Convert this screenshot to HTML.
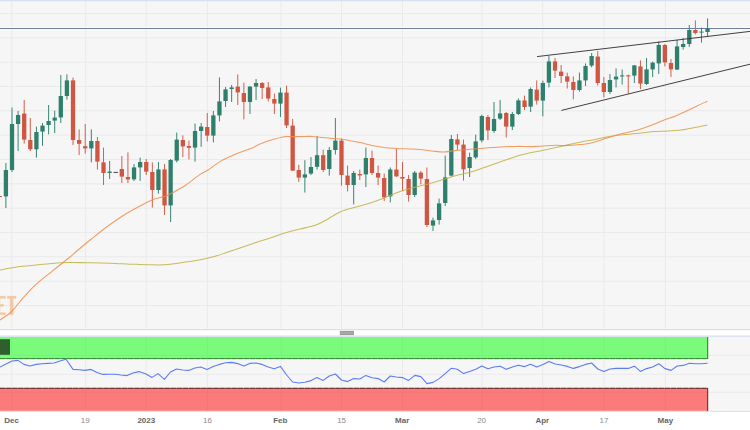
<!DOCTYPE html>
<html><head><meta charset="utf-8"><title>Chart</title>
<style>html,body{margin:0;padding:0;background:#fff;width:750px;height:430px;overflow:hidden;font-family:"Liberation Sans",sans-serif}svg{display:block}</style>
</head><body>
<svg width="750" height="430" viewBox="0 0 750 430">
<rect x="0" y="0" width="750" height="430" fill="#ffffff"/>
<rect x="0" y="0" width="750" height="329.5" fill="#f6f6f6"/>
<g stroke="#eaeaea" stroke-width="1" fill="none">
<line x1="0" y1="13.5" x2="750" y2="13.5"/>
<line x1="0" y1="37.8" x2="750" y2="37.8"/>
<line x1="0" y1="62.2" x2="750" y2="62.2"/>
<line x1="0" y1="86.5" x2="750" y2="86.5"/>
<line x1="0" y1="110.8" x2="750" y2="110.8"/>
<line x1="0" y1="135.1" x2="750" y2="135.1"/>
<line x1="0" y1="159.5" x2="750" y2="159.5"/>
<line x1="0" y1="183.8" x2="750" y2="183.8"/>
<line x1="0" y1="208.1" x2="750" y2="208.1"/>
<line x1="0" y1="232.5" x2="750" y2="232.5"/>
<line x1="0" y1="256.8" x2="750" y2="256.8"/>
<line x1="0" y1="281.1" x2="750" y2="281.1"/>
<line x1="0" y1="305.5" x2="750" y2="305.5"/>
<line x1="11.8" y1="0" x2="11.8" y2="329"/>
<line x1="85.6" y1="0" x2="85.6" y2="329"/>
<line x1="146.1" y1="0" x2="146.1" y2="329"/>
<line x1="207.4" y1="0" x2="207.4" y2="329"/>
<line x1="281.0" y1="0" x2="281.0" y2="329"/>
<line x1="341.5" y1="0" x2="341.5" y2="329"/>
<line x1="402.5" y1="0" x2="402.5" y2="329"/>
<line x1="482.0" y1="0" x2="482.0" y2="329"/>
<line x1="542.7" y1="0" x2="542.7" y2="329"/>
<line x1="604.0" y1="0" x2="604.0" y2="329"/>
<line x1="665.4" y1="0" x2="665.4" y2="329"/>
</g>
<line x1="0" y1="0.5" x2="750" y2="0.5" stroke="#d9def0" stroke-width="1.4"/>
<line x1="0" y1="329.6" x2="750" y2="329.6" stroke="#d9def0" stroke-width="1.2"/>
<g fill="#f0a05a" fill-opacity="0.5">
<rect x="7.1" y="295.9" width="9.1" height="2.8"/>
<rect x="9.9" y="298.7" width="3.5" height="16.2"/>
<rect x="-4" y="295.9" width="9.7" height="2.8"/>
<rect x="-4" y="304.2" width="7.6" height="2.5"/>
<rect x="-4" y="312.4" width="9.7" height="2.5"/>
<rect x="-4" y="298.7" width="4.2" height="5.5"/>
<rect x="-4" y="306.7" width="4.2" height="5.7"/>
</g>
<line x1="0" y1="28.5" x2="750" y2="28.5" stroke="#ffffff" stroke-width="2.6" stroke-opacity="0.8"/>
<line x1="0" y1="28.5" x2="750" y2="28.5" stroke="#6a7e9e" stroke-width="1.1"/>
<line x1="-0.20" y1="196.0" x2="-0.20" y2="197.0" stroke="#d05642" stroke-width="1" stroke-opacity="0.95"/>
<rect x="-2.35" y="196.0" width="4.3" height="1.0" fill="#d05642"/>
<line x1="5.90" y1="163.0" x2="5.90" y2="208.0" stroke="#2e806c" stroke-width="1" stroke-opacity="0.95"/>
<rect x="3.75" y="170.0" width="4.3" height="26.4" fill="#2e806c"/>
<line x1="12.00" y1="107.6" x2="12.00" y2="172.0" stroke="#2e806c" stroke-width="1" stroke-opacity="0.95"/>
<rect x="9.85" y="124.0" width="4.3" height="46.0" fill="#2e806c"/>
<line x1="18.10" y1="111.0" x2="18.10" y2="151.0" stroke="#2e806c" stroke-width="1" stroke-opacity="0.95"/>
<rect x="15.95" y="115.0" width="4.3" height="9.0" fill="#2e806c"/>
<line x1="24.20" y1="100.0" x2="24.20" y2="143.6" stroke="#d05642" stroke-width="1" stroke-opacity="0.95"/>
<rect x="22.05" y="113.6" width="4.3" height="26.0" fill="#d05642"/>
<line x1="30.30" y1="118.0" x2="30.30" y2="151.0" stroke="#d05642" stroke-width="1" stroke-opacity="0.95"/>
<rect x="28.15" y="140.0" width="4.3" height="9.3" fill="#d05642"/>
<line x1="36.41" y1="126.6" x2="36.41" y2="157.6" stroke="#2e806c" stroke-width="1" stroke-opacity="0.95"/>
<rect x="34.26" y="132.0" width="4.3" height="17.3" fill="#2e806c"/>
<line x1="42.51" y1="123.0" x2="42.51" y2="145.8" stroke="#2e806c" stroke-width="1" stroke-opacity="0.95"/>
<rect x="40.36" y="125.6" width="4.3" height="6.0" fill="#2e806c"/>
<line x1="48.61" y1="105.0" x2="48.61" y2="134.4" stroke="#2e806c" stroke-width="1" stroke-opacity="0.95"/>
<rect x="46.46" y="121.0" width="4.3" height="4.0" fill="#2e806c"/>
<line x1="54.71" y1="110.6" x2="54.71" y2="133.0" stroke="#2e806c" stroke-width="1" stroke-opacity="0.95"/>
<rect x="52.56" y="117.6" width="4.3" height="3.0" fill="#2e806c"/>
<line x1="60.81" y1="75.0" x2="60.81" y2="123.0" stroke="#2e806c" stroke-width="1" stroke-opacity="0.95"/>
<rect x="58.66" y="96.0" width="4.3" height="21.4" fill="#2e806c"/>
<line x1="66.91" y1="74.4" x2="66.91" y2="99.6" stroke="#2e806c" stroke-width="1" stroke-opacity="0.95"/>
<rect x="64.76" y="80.4" width="4.3" height="15.6" fill="#2e806c"/>
<line x1="73.02" y1="77.6" x2="73.02" y2="145.0" stroke="#d05642" stroke-width="1" stroke-opacity="0.95"/>
<rect x="70.86" y="80.4" width="4.3" height="59.6" fill="#d05642"/>
<line x1="79.12" y1="129.4" x2="79.12" y2="155.0" stroke="#d05642" stroke-width="1" stroke-opacity="0.95"/>
<rect x="76.97" y="140.0" width="4.3" height="3.8" fill="#d05642"/>
<line x1="85.22" y1="124.0" x2="85.22" y2="153.6" stroke="#d05642" stroke-width="1" stroke-opacity="0.95"/>
<rect x="83.07" y="146.2" width="4.3" height="2.2" fill="#d05642"/>
<line x1="91.32" y1="129.4" x2="91.32" y2="162.4" stroke="#2e806c" stroke-width="1" stroke-opacity="0.95"/>
<rect x="89.17" y="141.0" width="4.3" height="7.4" fill="#2e806c"/>
<line x1="97.42" y1="137.0" x2="97.42" y2="169.6" stroke="#d05642" stroke-width="1" stroke-opacity="0.95"/>
<rect x="95.27" y="141.0" width="4.3" height="20.6" fill="#d05642"/>
<line x1="103.52" y1="147.6" x2="103.52" y2="185.0" stroke="#d05642" stroke-width="1" stroke-opacity="0.95"/>
<rect x="101.37" y="162.4" width="4.3" height="10.6" fill="#d05642"/>
<line x1="109.62" y1="161.0" x2="109.62" y2="179.0" stroke="#2e806c" stroke-width="1" stroke-opacity="0.95"/>
<rect x="107.47" y="171.6" width="4.3" height="1.4" fill="#2e806c"/>
<line x1="113.5" y1="172.4" x2="117.9" y2="172.4" stroke="#333" stroke-width="0.9"/>
<line x1="121.83" y1="156.0" x2="121.83" y2="183.0" stroke="#d05642" stroke-width="1" stroke-opacity="0.95"/>
<rect x="119.68" y="169.0" width="4.3" height="7.6" fill="#d05642"/>
<line x1="127.93" y1="152.4" x2="127.93" y2="183.0" stroke="#d05642" stroke-width="1" stroke-opacity="0.95"/>
<rect x="125.78" y="177.0" width="4.3" height="2.4" fill="#d05642"/>
<line x1="134.03" y1="164.0" x2="134.03" y2="181.0" stroke="#2e806c" stroke-width="1" stroke-opacity="0.95"/>
<rect x="131.88" y="167.4" width="4.3" height="12.0" fill="#2e806c"/>
<line x1="140.13" y1="157.6" x2="140.13" y2="181.0" stroke="#2e806c" stroke-width="1" stroke-opacity="0.95"/>
<rect x="137.98" y="162.0" width="4.3" height="5.4" fill="#2e806c"/>
<line x1="146.23" y1="159.0" x2="146.23" y2="175.0" stroke="#d05642" stroke-width="1" stroke-opacity="0.95"/>
<rect x="144.08" y="162.0" width="4.3" height="9.6" fill="#d05642"/>
<line x1="152.33" y1="162.4" x2="152.33" y2="207.6" stroke="#d05642" stroke-width="1" stroke-opacity="0.95"/>
<rect x="150.18" y="172.0" width="4.3" height="18.0" fill="#d05642"/>
<line x1="158.44" y1="162.0" x2="158.44" y2="193.6" stroke="#2e806c" stroke-width="1" stroke-opacity="0.95"/>
<rect x="156.29" y="169.4" width="4.3" height="20.6" fill="#2e806c"/>
<line x1="164.54" y1="164.0" x2="164.54" y2="215.0" stroke="#d05642" stroke-width="1" stroke-opacity="0.95"/>
<rect x="162.39" y="169.4" width="4.3" height="36.0" fill="#d05642"/>
<line x1="170.64" y1="159.0" x2="170.64" y2="222.0" stroke="#2e806c" stroke-width="1" stroke-opacity="0.95"/>
<rect x="168.49" y="160.0" width="4.3" height="45.4" fill="#2e806c"/>
<line x1="176.74" y1="132.6" x2="176.74" y2="162.4" stroke="#2e806c" stroke-width="1" stroke-opacity="0.95"/>
<rect x="174.59" y="139.6" width="4.3" height="21.0" fill="#2e806c"/>
<line x1="182.84" y1="135.4" x2="182.84" y2="157.0" stroke="#d05642" stroke-width="1" stroke-opacity="0.95"/>
<rect x="180.69" y="140.0" width="4.3" height="6.4" fill="#d05642"/>
<line x1="188.94" y1="140.6" x2="188.94" y2="159.4" stroke="#d05642" stroke-width="1" stroke-opacity="0.95"/>
<rect x="186.79" y="146.0" width="4.3" height="1.8" fill="#d05642"/>
<line x1="195.04" y1="123.6" x2="195.04" y2="161.6" stroke="#2e806c" stroke-width="1" stroke-opacity="0.95"/>
<rect x="192.89" y="131.0" width="4.3" height="16.6" fill="#2e806c"/>
<line x1="201.15" y1="123.0" x2="201.15" y2="146.8" stroke="#2e806c" stroke-width="1" stroke-opacity="0.95"/>
<rect x="199.00" y="126.6" width="4.3" height="4.4" fill="#2e806c"/>
<line x1="207.25" y1="113.0" x2="207.25" y2="141.4" stroke="#d05642" stroke-width="1" stroke-opacity="0.95"/>
<rect x="205.10" y="127.0" width="4.3" height="8.6" fill="#d05642"/>
<line x1="213.35" y1="111.0" x2="213.35" y2="142.4" stroke="#2e806c" stroke-width="1" stroke-opacity="0.95"/>
<rect x="211.20" y="115.4" width="4.3" height="20.2" fill="#2e806c"/>
<line x1="219.45" y1="77.4" x2="219.45" y2="121.4" stroke="#2e806c" stroke-width="1" stroke-opacity="0.95"/>
<rect x="217.30" y="101.4" width="4.3" height="14.0" fill="#2e806c"/>
<line x1="225.55" y1="87.0" x2="225.55" y2="107.0" stroke="#2e806c" stroke-width="1" stroke-opacity="0.95"/>
<rect x="223.40" y="89.4" width="4.3" height="11.6" fill="#2e806c"/>
<line x1="231.65" y1="85.0" x2="231.65" y2="102.0" stroke="#2e806c" stroke-width="1" stroke-opacity="0.95"/>
<rect x="229.50" y="87.4" width="4.3" height="1.6" fill="#2e806c"/>
<line x1="237.76" y1="74.4" x2="237.76" y2="105.0" stroke="#d05642" stroke-width="1" stroke-opacity="0.95"/>
<rect x="235.61" y="86.6" width="4.3" height="5.8" fill="#d05642"/>
<line x1="243.86" y1="82.6" x2="243.86" y2="119.4" stroke="#d05642" stroke-width="1" stroke-opacity="0.95"/>
<rect x="241.71" y="93.0" width="4.3" height="9.0" fill="#d05642"/>
<line x1="249.96" y1="86.0" x2="249.96" y2="114.0" stroke="#2e806c" stroke-width="1" stroke-opacity="0.95"/>
<rect x="247.81" y="86.6" width="4.3" height="15.4" fill="#2e806c"/>
<line x1="256.06" y1="79.0" x2="256.06" y2="100.0" stroke="#2e806c" stroke-width="1" stroke-opacity="0.95"/>
<rect x="253.91" y="83.0" width="4.3" height="3.6" fill="#2e806c"/>
<line x1="262.16" y1="82.0" x2="262.16" y2="99.0" stroke="#d05642" stroke-width="1" stroke-opacity="0.95"/>
<rect x="260.01" y="83.0" width="4.3" height="5.0" fill="#d05642"/>
<line x1="268.26" y1="82.0" x2="268.26" y2="101.4" stroke="#d05642" stroke-width="1" stroke-opacity="0.95"/>
<rect x="266.11" y="87.4" width="4.3" height="11.2" fill="#d05642"/>
<line x1="274.36" y1="93.6" x2="274.36" y2="114.0" stroke="#d05642" stroke-width="1" stroke-opacity="0.95"/>
<rect x="272.21" y="99.0" width="4.3" height="4.6" fill="#d05642"/>
<line x1="280.47" y1="87.6" x2="280.47" y2="117.0" stroke="#2e806c" stroke-width="1" stroke-opacity="0.95"/>
<rect x="278.32" y="92.6" width="4.3" height="11.0" fill="#2e806c"/>
<line x1="286.57" y1="85.6" x2="286.57" y2="128.0" stroke="#d05642" stroke-width="1" stroke-opacity="0.95"/>
<rect x="284.42" y="92.6" width="4.3" height="32.8" fill="#d05642"/>
<line x1="292.67" y1="119.0" x2="292.67" y2="171.0" stroke="#d05642" stroke-width="1" stroke-opacity="0.95"/>
<rect x="290.52" y="125.6" width="4.3" height="45.0" fill="#d05642"/>
<line x1="298.77" y1="164.8" x2="298.77" y2="182.0" stroke="#d05642" stroke-width="1" stroke-opacity="0.95"/>
<rect x="296.62" y="170.0" width="4.3" height="7.6" fill="#d05642"/>
<line x1="304.87" y1="160.2" x2="304.87" y2="192.6" stroke="#2e806c" stroke-width="1" stroke-opacity="0.95"/>
<rect x="302.72" y="174.4" width="4.3" height="3.2" fill="#2e806c"/>
<line x1="310.97" y1="157.0" x2="310.97" y2="175.0" stroke="#2e806c" stroke-width="1" stroke-opacity="0.95"/>
<rect x="308.82" y="167.0" width="4.3" height="6.6" fill="#2e806c"/>
<line x1="317.07" y1="136.0" x2="317.07" y2="169.6" stroke="#2e806c" stroke-width="1" stroke-opacity="0.95"/>
<rect x="314.93" y="155.2" width="4.3" height="11.6" fill="#2e806c"/>
<line x1="323.18" y1="149.6" x2="323.18" y2="172.0" stroke="#d05642" stroke-width="1" stroke-opacity="0.95"/>
<rect x="321.03" y="155.2" width="4.3" height="14.8" fill="#d05642"/>
<line x1="329.28" y1="147.0" x2="329.28" y2="175.6" stroke="#2e806c" stroke-width="1" stroke-opacity="0.95"/>
<rect x="327.13" y="150.0" width="4.3" height="19.0" fill="#2e806c"/>
<line x1="335.38" y1="118.0" x2="335.38" y2="154.5" stroke="#2e806c" stroke-width="1" stroke-opacity="0.95"/>
<rect x="333.23" y="140.6" width="4.3" height="9.4" fill="#2e806c"/>
<line x1="341.48" y1="138.6" x2="341.48" y2="185.6" stroke="#d05642" stroke-width="1" stroke-opacity="0.95"/>
<rect x="339.33" y="140.6" width="4.3" height="34.4" fill="#d05642"/>
<line x1="347.58" y1="165.6" x2="347.58" y2="191.4" stroke="#d05642" stroke-width="1" stroke-opacity="0.95"/>
<rect x="345.43" y="175.6" width="4.3" height="9.4" fill="#d05642"/>
<line x1="353.68" y1="171.0" x2="353.68" y2="204.4" stroke="#2e806c" stroke-width="1" stroke-opacity="0.95"/>
<rect x="351.53" y="173.0" width="4.3" height="12.0" fill="#2e806c"/>
<line x1="359.79" y1="169.6" x2="359.79" y2="180.0" stroke="#d05642" stroke-width="1" stroke-opacity="0.95"/>
<rect x="357.64" y="174.0" width="4.3" height="1.4" fill="#d05642"/>
<line x1="365.89" y1="147.6" x2="365.89" y2="187.0" stroke="#2e806c" stroke-width="1" stroke-opacity="0.95"/>
<rect x="363.74" y="158.0" width="4.3" height="16.4" fill="#2e806c"/>
<line x1="371.99" y1="150.6" x2="371.99" y2="175.0" stroke="#d05642" stroke-width="1" stroke-opacity="0.95"/>
<rect x="369.84" y="158.0" width="4.3" height="15.0" fill="#d05642"/>
<line x1="378.09" y1="165.6" x2="378.09" y2="185.0" stroke="#d05642" stroke-width="1" stroke-opacity="0.95"/>
<rect x="375.94" y="173.0" width="4.3" height="4.6" fill="#d05642"/>
<line x1="384.19" y1="173.6" x2="384.19" y2="201.0" stroke="#d05642" stroke-width="1" stroke-opacity="0.95"/>
<rect x="382.04" y="178.0" width="4.3" height="19.4" fill="#d05642"/>
<line x1="390.29" y1="167.5" x2="390.29" y2="202.4" stroke="#2e806c" stroke-width="1" stroke-opacity="0.95"/>
<rect x="388.14" y="169.5" width="4.3" height="26.9" fill="#2e806c"/>
<line x1="396.39" y1="149.0" x2="396.39" y2="177.0" stroke="#d05642" stroke-width="1" stroke-opacity="0.95"/>
<rect x="394.24" y="169.6" width="4.3" height="6.8" fill="#d05642"/>
<line x1="402.50" y1="162.0" x2="402.50" y2="191.0" stroke="#d05642" stroke-width="1" stroke-opacity="0.95"/>
<rect x="400.35" y="177.0" width="4.3" height="1.6" fill="#d05642"/>
<line x1="408.60" y1="175.0" x2="408.60" y2="201.6" stroke="#d05642" stroke-width="1" stroke-opacity="0.95"/>
<rect x="406.45" y="179.0" width="4.3" height="16.0" fill="#d05642"/>
<line x1="414.70" y1="171.0" x2="414.70" y2="197.0" stroke="#2e806c" stroke-width="1" stroke-opacity="0.95"/>
<rect x="412.55" y="172.6" width="4.3" height="22.4" fill="#2e806c"/>
<line x1="420.80" y1="171.0" x2="420.80" y2="184.4" stroke="#d05642" stroke-width="1" stroke-opacity="0.95"/>
<rect x="418.65" y="172.6" width="4.3" height="6.0" fill="#d05642"/>
<line x1="426.90" y1="167.5" x2="426.90" y2="227.0" stroke="#d05642" stroke-width="1" stroke-opacity="0.95"/>
<rect x="424.75" y="179.0" width="4.3" height="46.0" fill="#d05642"/>
<line x1="433.00" y1="217.6" x2="433.00" y2="231.0" stroke="#2e806c" stroke-width="1" stroke-opacity="0.95"/>
<rect x="430.85" y="220.4" width="4.3" height="5.2" fill="#2e806c"/>
<line x1="439.10" y1="198.6" x2="439.10" y2="224.6" stroke="#2e806c" stroke-width="1" stroke-opacity="0.95"/>
<rect x="436.95" y="203.4" width="4.3" height="16.6" fill="#2e806c"/>
<line x1="445.21" y1="155.6" x2="445.21" y2="206.0" stroke="#2e806c" stroke-width="1" stroke-opacity="0.95"/>
<rect x="443.06" y="177.4" width="4.3" height="25.6" fill="#2e806c"/>
<line x1="451.31" y1="135.0" x2="451.31" y2="176.5" stroke="#2e806c" stroke-width="1" stroke-opacity="0.95"/>
<rect x="449.16" y="139.0" width="4.3" height="36.6" fill="#2e806c"/>
<line x1="457.41" y1="134.0" x2="457.41" y2="150.0" stroke="#d05642" stroke-width="1" stroke-opacity="0.95"/>
<rect x="455.26" y="139.4" width="4.3" height="5.2" fill="#d05642"/>
<line x1="463.51" y1="139.6" x2="463.51" y2="180.6" stroke="#d05642" stroke-width="1" stroke-opacity="0.95"/>
<rect x="461.36" y="144.6" width="4.3" height="24.8" fill="#d05642"/>
<line x1="469.61" y1="152.6" x2="469.61" y2="177.0" stroke="#2e806c" stroke-width="1" stroke-opacity="0.95"/>
<rect x="467.46" y="157.0" width="4.3" height="11.0" fill="#2e806c"/>
<line x1="475.71" y1="134.6" x2="475.71" y2="159.0" stroke="#2e806c" stroke-width="1" stroke-opacity="0.95"/>
<rect x="473.56" y="141.4" width="4.3" height="16.0" fill="#2e806c"/>
<line x1="481.82" y1="114.6" x2="481.82" y2="142.4" stroke="#2e806c" stroke-width="1" stroke-opacity="0.95"/>
<rect x="479.67" y="116.0" width="4.3" height="24.4" fill="#2e806c"/>
<line x1="487.92" y1="115.0" x2="487.92" y2="140.0" stroke="#d05642" stroke-width="1" stroke-opacity="0.95"/>
<rect x="485.77" y="117.0" width="4.3" height="13.4" fill="#d05642"/>
<line x1="494.02" y1="102.0" x2="494.02" y2="133.0" stroke="#2e806c" stroke-width="1" stroke-opacity="0.95"/>
<rect x="491.87" y="119.0" width="4.3" height="12.0" fill="#2e806c"/>
<line x1="500.12" y1="100.0" x2="500.12" y2="120.0" stroke="#2e806c" stroke-width="1" stroke-opacity="0.95"/>
<rect x="497.97" y="113.4" width="4.3" height="5.2" fill="#2e806c"/>
<line x1="506.22" y1="112.0" x2="506.22" y2="137.4" stroke="#d05642" stroke-width="1" stroke-opacity="0.95"/>
<rect x="504.07" y="113.0" width="4.3" height="13.6" fill="#d05642"/>
<line x1="512.32" y1="112.0" x2="512.32" y2="130.0" stroke="#2e806c" stroke-width="1" stroke-opacity="0.95"/>
<rect x="510.17" y="114.0" width="4.3" height="12.6" fill="#2e806c"/>
<line x1="518.42" y1="98.4" x2="518.42" y2="115.0" stroke="#2e806c" stroke-width="1" stroke-opacity="0.95"/>
<rect x="516.27" y="100.4" width="4.3" height="13.6" fill="#2e806c"/>
<line x1="524.53" y1="95.6" x2="524.53" y2="110.0" stroke="#d05642" stroke-width="1" stroke-opacity="0.95"/>
<rect x="522.38" y="100.4" width="4.3" height="6.6" fill="#d05642"/>
<line x1="530.63" y1="87.4" x2="530.63" y2="112.0" stroke="#2e806c" stroke-width="1" stroke-opacity="0.95"/>
<rect x="528.48" y="89.0" width="4.3" height="17.6" fill="#2e806c"/>
<line x1="536.73" y1="80.4" x2="536.73" y2="104.6" stroke="#d05642" stroke-width="1" stroke-opacity="0.95"/>
<rect x="534.58" y="89.6" width="4.3" height="11.0" fill="#d05642"/>
<line x1="542.83" y1="80.6" x2="542.83" y2="116.4" stroke="#2e806c" stroke-width="1" stroke-opacity="0.95"/>
<rect x="540.68" y="83.0" width="4.3" height="17.6" fill="#2e806c"/>
<line x1="548.93" y1="56.0" x2="548.93" y2="87.4" stroke="#2e806c" stroke-width="1" stroke-opacity="0.95"/>
<rect x="546.78" y="61.4" width="4.3" height="21.2" fill="#2e806c"/>
<line x1="555.03" y1="58.0" x2="555.03" y2="78.0" stroke="#d05642" stroke-width="1" stroke-opacity="0.95"/>
<rect x="552.88" y="61.4" width="4.3" height="9.2" fill="#d05642"/>
<line x1="561.13" y1="65.0" x2="561.13" y2="83.0" stroke="#d05642" stroke-width="1" stroke-opacity="0.95"/>
<rect x="558.99" y="71.6" width="4.3" height="4.4" fill="#d05642"/>
<line x1="567.24" y1="72.6" x2="567.24" y2="88.6" stroke="#d05642" stroke-width="1" stroke-opacity="0.95"/>
<rect x="565.09" y="76.4" width="4.3" height="5.2" fill="#d05642"/>
<line x1="573.34" y1="76.4" x2="573.34" y2="99.4" stroke="#d05642" stroke-width="1" stroke-opacity="0.95"/>
<rect x="571.19" y="82.0" width="4.3" height="8.0" fill="#d05642"/>
<line x1="579.44" y1="72.6" x2="579.44" y2="91.6" stroke="#2e806c" stroke-width="1" stroke-opacity="0.95"/>
<rect x="577.29" y="80.4" width="4.3" height="9.6" fill="#2e806c"/>
<line x1="585.54" y1="63.4" x2="585.54" y2="86.0" stroke="#2e806c" stroke-width="1" stroke-opacity="0.95"/>
<rect x="583.39" y="66.0" width="4.3" height="14.4" fill="#2e806c"/>
<line x1="591.64" y1="53.0" x2="591.64" y2="67.4" stroke="#2e806c" stroke-width="1" stroke-opacity="0.95"/>
<rect x="589.49" y="56.0" width="4.3" height="9.6" fill="#2e806c"/>
<line x1="597.74" y1="51.0" x2="597.74" y2="85.6" stroke="#d05642" stroke-width="1" stroke-opacity="0.95"/>
<rect x="595.59" y="56.6" width="4.3" height="26.4" fill="#d05642"/>
<line x1="603.85" y1="77.0" x2="603.85" y2="97.4" stroke="#d05642" stroke-width="1" stroke-opacity="0.95"/>
<rect x="601.70" y="83.0" width="4.3" height="9.0" fill="#d05642"/>
<line x1="609.95" y1="74.0" x2="609.95" y2="94.0" stroke="#2e806c" stroke-width="1" stroke-opacity="0.95"/>
<rect x="607.80" y="80.0" width="4.3" height="12.0" fill="#2e806c"/>
<line x1="616.05" y1="68.4" x2="616.05" y2="87.4" stroke="#2e806c" stroke-width="1" stroke-opacity="0.95"/>
<rect x="613.90" y="76.6" width="4.3" height="2.8" fill="#2e806c"/>
<line x1="622.15" y1="69.6" x2="622.15" y2="84.6" stroke="#2e806c" stroke-width="1" stroke-opacity="0.95"/>
<rect x="620.00" y="75.4" width="4.3" height="1.0" fill="#2e806c"/>
<line x1="628.25" y1="74.6" x2="628.25" y2="93.6" stroke="#d05642" stroke-width="1" stroke-opacity="0.95"/>
<rect x="626.10" y="75.4" width="4.3" height="1.0" fill="#d05642"/>
<line x1="634.35" y1="65.0" x2="634.35" y2="83.0" stroke="#2e806c" stroke-width="1" stroke-opacity="0.95"/>
<rect x="632.20" y="65.4" width="4.3" height="10.2" fill="#2e806c"/>
<line x1="640.45" y1="60.4" x2="640.45" y2="89.0" stroke="#d05642" stroke-width="1" stroke-opacity="0.95"/>
<rect x="638.30" y="66.4" width="4.3" height="17.2" fill="#d05642"/>
<line x1="646.56" y1="58.0" x2="646.56" y2="85.0" stroke="#2e806c" stroke-width="1" stroke-opacity="0.95"/>
<rect x="644.41" y="69.4" width="4.3" height="14.6" fill="#2e806c"/>
<line x1="652.66" y1="61.6" x2="652.66" y2="77.0" stroke="#2e806c" stroke-width="1" stroke-opacity="0.95"/>
<rect x="650.51" y="62.6" width="4.3" height="6.8" fill="#2e806c"/>
<line x1="658.76" y1="41.4" x2="658.76" y2="74.0" stroke="#2e806c" stroke-width="1" stroke-opacity="0.95"/>
<rect x="656.61" y="45.0" width="4.3" height="18.4" fill="#2e806c"/>
<line x1="664.86" y1="44.0" x2="664.86" y2="66.4" stroke="#d05642" stroke-width="1" stroke-opacity="0.95"/>
<rect x="662.71" y="45.0" width="4.3" height="17.4" fill="#d05642"/>
<line x1="670.96" y1="59.0" x2="670.96" y2="77.0" stroke="#d05642" stroke-width="1" stroke-opacity="0.95"/>
<rect x="668.81" y="63.0" width="4.3" height="6.4" fill="#d05642"/>
<line x1="677.06" y1="40.0" x2="677.06" y2="70.0" stroke="#2e806c" stroke-width="1" stroke-opacity="0.95"/>
<rect x="674.91" y="46.4" width="4.3" height="23.2" fill="#2e806c"/>
<line x1="683.16" y1="38.0" x2="683.16" y2="49.6" stroke="#2e806c" stroke-width="1" stroke-opacity="0.95"/>
<rect x="681.01" y="44.0" width="4.3" height="3.0" fill="#2e806c"/>
<line x1="689.27" y1="25.0" x2="689.27" y2="47.0" stroke="#2e806c" stroke-width="1" stroke-opacity="0.95"/>
<rect x="687.12" y="30.0" width="4.3" height="14.0" fill="#2e806c"/>
<line x1="695.37" y1="20.4" x2="695.37" y2="34.4" stroke="#d05642" stroke-width="1" stroke-opacity="0.95"/>
<rect x="693.22" y="30.0" width="4.3" height="3.0" fill="#d05642"/>
<line x1="701.47" y1="27.6" x2="701.47" y2="42.6" stroke="#2e806c" stroke-width="1" stroke-opacity="0.95"/>
<rect x="699.32" y="31.6" width="4.3" height="1.0" fill="#2e806c"/>
<line x1="707.57" y1="18.4" x2="707.57" y2="36.4" stroke="#2e806c" stroke-width="1" stroke-opacity="0.95"/>
<rect x="705.42" y="28.6" width="4.3" height="3.4" fill="#2e806c"/>
<path d="M0.0,270.0C3.3,269.4 13.3,267.5 20.0,266.6C26.7,265.7 33.3,265.2 40.0,264.6C46.7,264.0 55.0,263.2 60.0,262.8C65.0,262.4 65.0,262.4 70.0,262.4C75.0,262.4 83.3,262.7 90.0,262.8C96.7,262.9 103.3,263.0 110.0,263.2C116.7,263.4 125.0,264.0 130.0,264.2C135.0,264.4 136.3,264.3 140.0,264.4C143.7,264.5 148.0,264.7 152.0,264.8C156.0,264.9 160.0,265.0 164.0,264.8C168.0,264.6 171.7,264.0 176.0,263.4C180.3,262.8 185.3,262.1 190.0,261.4C194.7,260.7 199.7,259.9 204.0,259.0C208.3,258.1 212.0,257.2 216.0,256.0C220.0,254.8 224.0,253.3 228.0,252.0C232.0,250.7 235.3,249.6 240.0,248.0C244.7,246.4 251.0,244.1 256.0,242.4C261.0,240.7 266.0,239.3 270.0,238.0C274.0,236.7 276.7,235.5 280.0,234.4C283.3,233.3 286.7,232.3 290.0,231.4C293.3,230.5 295.7,230.1 300.0,229.0C304.3,227.9 311.3,226.7 316.0,225.0C320.7,223.3 324.0,221.2 328.0,219.0C332.0,216.8 335.3,214.0 340.0,212.0C344.7,210.0 350.7,208.6 356.0,207.0C361.3,205.4 367.3,203.9 372.0,202.4C376.7,200.9 380.0,199.6 384.0,198.0C388.0,196.4 392.0,194.5 396.0,193.0C400.0,191.5 404.0,190.2 408.0,189.0C412.0,187.8 416.3,186.9 420.0,186.0C423.7,185.1 426.7,184.5 430.0,183.6C433.3,182.7 436.7,181.4 440.0,180.4C443.3,179.4 446.7,178.4 450.0,177.4C453.3,176.4 456.7,175.5 460.0,174.6C463.3,173.7 466.7,173.1 470.0,172.2C473.3,171.3 476.7,170.1 480.0,169.0C483.3,167.9 486.7,166.8 490.0,165.6C493.3,164.4 496.7,163.2 500.0,162.0C503.3,160.8 506.7,159.7 510.0,158.6C513.3,157.5 516.7,156.2 520.0,155.2C523.3,154.2 526.7,153.5 530.0,152.8C533.3,152.1 535.7,151.9 540.0,151.0C544.3,150.1 551.8,148.5 556.0,147.6C560.2,146.7 560.8,146.3 565.0,145.4C569.2,144.5 576.0,143.0 581.0,142.0C586.0,141.0 590.3,140.3 595.0,139.4C599.7,138.5 604.0,137.4 609.0,136.6C614.0,135.8 619.7,135.2 625.0,134.6C630.3,134.0 636.0,133.5 641.0,133.0C646.0,132.5 650.7,131.9 655.0,131.6C659.3,131.3 662.7,131.3 667.0,131.0C671.3,130.7 677.0,130.5 681.0,130.0C685.0,129.5 686.6,129.0 691.0,128.2C695.4,127.4 704.7,125.5 707.4,125.0" fill="none" stroke="#c0b042" stroke-width="1.05" stroke-opacity="0.85" stroke-linejoin="round"/>
<path d="M0.0,320.0C1.7,318.8 7.3,315.2 10.0,313.0C12.7,310.8 13.7,309.2 16.0,306.5C18.3,303.8 20.7,300.5 24.0,296.8C27.3,293.1 32.0,288.1 36.0,284.4C40.0,280.7 44.0,277.8 48.0,274.6C52.0,271.4 56.3,267.9 60.0,265.0C63.7,262.1 67.0,259.5 70.0,257.0C73.0,254.5 74.3,253.1 78.0,250.0C81.7,246.9 87.0,242.5 92.0,238.5C97.0,234.5 102.7,229.9 108.0,226.0C113.3,222.1 118.7,218.3 124.0,215.0C129.3,211.7 135.3,208.5 140.0,206.0C144.7,203.5 147.7,201.7 152.0,200.0C156.3,198.3 162.7,197.2 166.0,196.0C169.3,194.8 168.7,194.8 172.0,193.0C175.3,191.2 181.3,188.1 186.0,185.0C190.7,181.9 196.3,176.9 200.0,174.4C203.7,171.9 204.7,172.1 208.0,170.0C211.3,167.9 215.3,164.3 220.0,161.6C224.7,158.9 230.7,156.3 236.0,154.0C241.3,151.7 248.0,149.7 252.0,148.0C256.0,146.3 256.7,145.4 260.0,144.0C263.3,142.6 268.0,141.0 272.0,139.8C276.0,138.6 281.0,137.3 284.0,136.8C287.0,136.3 287.3,136.6 290.0,136.6C292.7,136.6 296.3,136.6 300.0,136.6C303.7,136.6 308.3,136.2 312.0,136.4C315.7,136.6 318.3,137.3 322.0,137.6C325.7,137.9 331.0,138.2 334.0,138.4C337.0,138.6 337.0,138.6 340.0,139.0C343.0,139.4 348.0,140.3 352.0,141.0C356.0,141.7 360.7,142.7 364.0,143.4C367.3,144.1 368.7,144.7 372.0,145.4C375.3,146.1 380.0,146.9 384.0,147.4C388.0,147.9 391.7,148.1 396.0,148.4C400.3,148.7 406.0,148.8 410.0,149.0C414.0,149.2 416.3,149.3 420.0,149.6C423.7,149.9 428.0,150.6 432.0,151.0C436.0,151.4 440.0,152.1 444.0,152.0C448.0,151.9 452.0,150.8 456.0,150.4C460.0,150.0 464.0,149.7 468.0,149.4C472.0,149.1 474.7,148.8 480.0,148.4C485.3,148.0 494.0,147.3 500.0,147.0C506.0,146.7 511.0,146.5 516.0,146.4C521.0,146.3 526.0,146.6 530.0,146.6C534.0,146.6 535.7,146.4 540.0,146.2C544.3,146.0 551.8,145.3 556.0,145.2C560.2,145.1 561.8,145.6 565.0,145.6C568.2,145.6 571.0,145.3 575.0,145.0C579.0,144.7 584.7,144.4 589.0,143.6C593.3,142.8 596.7,141.4 601.0,140.0C605.3,138.6 610.7,136.7 615.0,135.4C619.3,134.1 622.7,133.5 627.0,132.4C631.3,131.3 636.7,130.3 641.0,129.0C645.3,127.7 649.3,125.8 653.0,124.4C656.7,123.0 659.3,121.8 663.0,120.4C666.7,119.0 671.3,117.6 675.0,116.2C678.7,114.8 681.3,113.5 685.0,111.8C688.7,110.1 693.3,107.8 697.0,106.0C700.7,104.2 705.7,102.0 707.4,101.2" fill="none" stroke="#f08c48" stroke-width="1.05" stroke-opacity="0.85" stroke-linejoin="round"/>
<line x1="537" y1="56.6" x2="750" y2="31.4" stroke="#2c2c2c" stroke-width="0.9"/>
<line x1="561.4" y1="110.4" x2="750" y2="64.2" stroke="#2c2c2c" stroke-width="0.9"/>
<rect x="0" y="336" width="750" height="75.2" fill="#f6f6f6"/>
<g stroke="#eaeaea" stroke-width="1" fill="none">
<line x1="0" y1="355.4" x2="750" y2="355.4"/>
<line x1="0" y1="374.2" x2="750" y2="374.2"/>
<line x1="0" y1="392.3" x2="750" y2="392.3"/>
<line x1="11.8" y1="336" x2="11.8" y2="411"/>
<line x1="85.6" y1="336" x2="85.6" y2="411"/>
<line x1="146.1" y1="336" x2="146.1" y2="411"/>
<line x1="207.4" y1="336" x2="207.4" y2="411"/>
<line x1="281.0" y1="336" x2="281.0" y2="411"/>
<line x1="341.5" y1="336" x2="341.5" y2="411"/>
<line x1="402.5" y1="336" x2="402.5" y2="411"/>
<line x1="482.0" y1="336" x2="482.0" y2="411"/>
<line x1="542.7" y1="336" x2="542.7" y2="411"/>
<line x1="604.0" y1="336" x2="604.0" y2="411"/>
<line x1="665.4" y1="336" x2="665.4" y2="411"/>
</g>
<line x1="0" y1="336.2" x2="750" y2="336.2" stroke="#d9def0" stroke-width="1.2"/>
<line x1="0" y1="411.4" x2="750" y2="411.4" stroke="#d9def0" stroke-width="1"/>
<rect x="0" y="337" width="707.7" height="21.5" fill="#00ff00" fill-opacity="0.5"/>
<rect x="0" y="388.2" width="707.7" height="22.6" fill="#ff0000" fill-opacity="0.5"/>
<line x1="0" y1="358.6" x2="707.7" y2="358.6" stroke="#2f8c2f" stroke-width="1" stroke-opacity="0.75"/>
<line x1="0" y1="358.6" x2="707.7" y2="358.6" stroke="#1f6f1f" stroke-width="1" stroke-opacity="0.6" stroke-dasharray="5,1.1"/>
<line x1="0" y1="388.3" x2="707.7" y2="388.3" stroke="#6a2a2a" stroke-width="1" stroke-opacity="0.75"/>
<line x1="0" y1="388.3" x2="707.7" y2="388.3" stroke="#401515" stroke-width="1" stroke-opacity="0.6" stroke-dasharray="5,1.1"/>
<line x1="707.7" y1="337" x2="707.7" y2="359" stroke="#237a23" stroke-width="1"/>
<line x1="707.7" y1="388" x2="707.7" y2="411" stroke="#5a2020" stroke-width="1"/>
<rect x="0" y="339.2" width="10" height="15.6" fill="#2f5f2f"/>
<polyline points="0.0,367.0 6.0,364.0 12.0,361.0 18.0,360.4 24.0,364.4 30.0,366.0 36.0,364.4 42.0,363.8 48.0,363.4 54.0,363.0 60.0,361.0 66.0,359.2 73.0,369.4 79.0,369.8 85.0,370.4 91.0,369.4 97.0,372.4 103.0,374.4 109.0,374.2 115.0,374.2 121.0,375.0 127.0,375.6 133.0,373.0 139.0,371.6 146.0,374.0 152.0,377.4 158.0,373.6 164.4,379.4 170.4,372.0 176.6,369.0 182.6,370.0 188.6,370.4 194.8,368.0 200.8,367.0 207.0,369.4 213.2,366.4 219.4,364.4 225.4,362.8 231.6,362.4 237.6,363.6 243.8,366.0 249.8,363.4 256.0,363.0 262.0,364.4 268.2,367.0 274.2,368.8 280.4,366.4 286.6,375.0 292.6,382.0 298.8,383.0 304.8,382.2 311.0,380.6 317.0,377.6 323.2,380.4 329.2,376.0 335.4,374.0 341.4,380.0 347.6,381.6 353.6,378.6 359.8,379.0 365.8,375.4 372.0,377.8 378.2,378.6 384.2,382.0 390.2,376.0 396.4,377.0 402.4,377.6 408.6,380.4 414.8,375.4 420.8,376.6 427.0,383.6 433.0,382.4 439.2,378.6 445.2,373.6 451.4,368.2 457.4,369.2 463.6,373.6 469.6,371.6 475.8,369.2 481.8,366.0 488.0,368.8 494.0,367.0 500.2,366.2 506.2,369.2 512.4,367.0 518.4,365.2 524.6,366.6 530.6,364.2 536.8,367.0 543.0,364.4 549.0,361.4 555.2,364.0 561.2,365.0 567.4,366.4 573.4,368.4 579.4,366.6 585.6,364.4 591.6,363.0 597.8,369.0 603.8,371.4 610.0,369.0 616.0,368.4 622.2,368.2 628.2,368.4 634.4,366.2 640.4,371.4 646.6,368.6 652.6,367.0 658.8,363.8 665.0,368.6 671.0,370.4 677.2,366.0 683.2,365.4 689.4,363.2 695.4,363.8 701.6,363.8 707.6,363.2" fill="none" stroke="#5b7cf7" stroke-width="1.1" stroke-linejoin="round"/>
<rect x="339.8" y="331.2" width="14.2" height="3.6" fill="#aba7a3"/>
<line x1="339.8" y1="331.4" x2="354" y2="331.4" stroke="#8d8985" stroke-width="0.7"/>
<line x1="339.8" y1="334.6" x2="354" y2="334.6" stroke="#8d8985" stroke-width="0.7"/>
<text x="11.7" y="423.1" text-anchor="middle" font-family="Liberation Sans, sans-serif" font-weight="bold" font-size="8" fill="#666666">Dec</text>
<text x="85.2" y="423.1" text-anchor="middle" font-family="Liberation Sans, sans-serif" font-size="8" fill="#8a8a8a">19</text>
<text x="146.3" y="423.1" text-anchor="middle" font-family="Liberation Sans, sans-serif" font-weight="bold" font-size="8" fill="#666666">2023</text>
<text x="207.4" y="423.1" text-anchor="middle" font-family="Liberation Sans, sans-serif" font-size="8" fill="#8a8a8a">16</text>
<text x="280.3" y="423.1" text-anchor="middle" font-family="Liberation Sans, sans-serif" font-weight="bold" font-size="8" fill="#666666">Feb</text>
<text x="341.6" y="423.1" text-anchor="middle" font-family="Liberation Sans, sans-serif" font-size="8" fill="#8a8a8a">15</text>
<text x="402.2" y="423.1" text-anchor="middle" font-family="Liberation Sans, sans-serif" font-weight="bold" font-size="8" fill="#666666">Mar</text>
<text x="481.6" y="423.1" text-anchor="middle" font-family="Liberation Sans, sans-serif" font-size="8" fill="#8a8a8a">20</text>
<text x="542.3" y="423.1" text-anchor="middle" font-family="Liberation Sans, sans-serif" font-weight="bold" font-size="8" fill="#666666">Apr</text>
<text x="604.0" y="423.1" text-anchor="middle" font-family="Liberation Sans, sans-serif" font-size="8" fill="#8a8a8a">17</text>
<text x="665.3" y="423.1" text-anchor="middle" font-family="Liberation Sans, sans-serif" font-weight="bold" font-size="8" fill="#666666">May</text>
</svg>
</body></html>
